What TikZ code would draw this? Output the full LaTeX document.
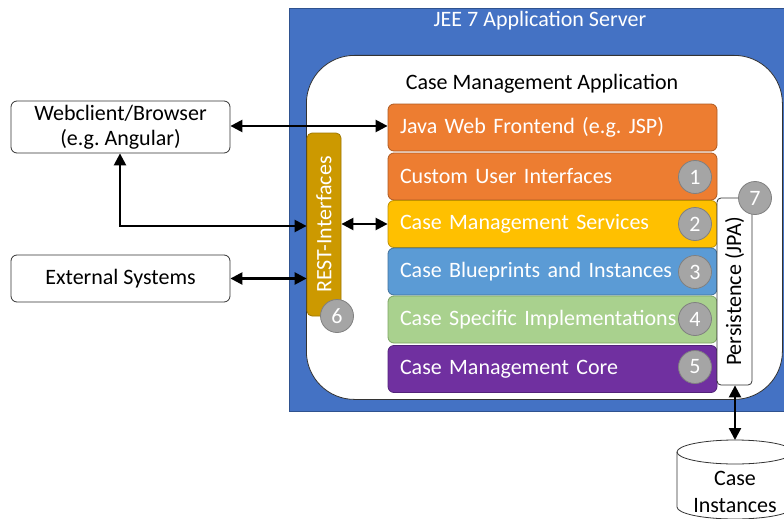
\documentclass[tikz,border=0pt]{standalone}
\usepackage{fontspec}
\setmainfont{Carlito}
\frenchspacing
\usetikzlibrary{arrows.meta}
\definecolor{srvblue}{HTML}{4472C4}
\definecolor{srvedge}{HTML}{2F528F}
\definecolor{lorange}{HTML}{ED7D31}
\definecolor{lorangeE}{HTML}{AE5A21}
\definecolor{lyellow}{HTML}{FFC000}
\definecolor{lyellowE}{HTML}{BF9000}
\definecolor{lblue}{HTML}{5B9BD5}
\definecolor{lblueE}{HTML}{41719C}
\definecolor{lgreen}{HTML}{A9D18E}
\definecolor{lgreenE}{HTML}{7EA563}
\definecolor{lpurple}{HTML}{7030A0}
\definecolor{lpurpleE}{HTML}{52237A}
\definecolor{restc}{HTML}{CC9900}
\definecolor{restE}{HTML}{A07800}
\definecolor{badge}{HTML}{A5A5A5}
\definecolor{badgeE}{HTML}{808080}
\begin{document}
\begin{tikzpicture}[x=1pt,y=-1pt,
  every node/.style={font=\fontsize{22}{27}\selectfont\frenchspacing},
  layer/.style={draw=#1, line width=0.8pt, rounded corners=6pt, minimum width=329pt,
    minimum height=47pt, text width=305pt, align=left, inner xsep=12pt, text=white},
  badgec/.style={circle, fill=badge, draw=badgeE, line width=0.8pt, minimum size=33pt,
    inner sep=0pt, text=white},
  extbox/.style={draw=black!80, rounded corners=6pt, line width=0.8pt, fill=white,
    minimum width=219pt, align=center},
  conn/.style={line width=2.4pt, {Triangle[length=12pt,width=12pt]}-{Triangle[length=12pt,width=12pt]}}
]
\useasboundingbox (0,0) rectangle (784,519);
\fill[white] (0,0) rectangle (784,519);

% application server
\node[draw=srvedge, fill=srvblue, line width=0.8pt, minimum width=500pt, minimum height=403pt,
  anchor=north west, inner sep=0pt] (server) at (289,8) {};
\node[text=white] (srvtitle) at (540,21) {JEE 7 Application Server};

% application container
\node[draw=black!80, fill=white, line width=0.8pt, rounded corners=48pt, minimum width=476pt,
  minimum height=344pt, anchor=north west, inner sep=0pt] (app) at (306,55) {};
\node (apptitle) at (542,84) {Case Management Application};

% layers
\node[layer=lorangeE, fill=lorange]  (jwf)  at (552.5,127.5) {Java Web Frontend (e.g. JSP)};
\node[layer=lorangeE, fill=lorange]  (cui)  at (552.5,176.5) {Custom User Interfaces};
\node[layer=lyellowE, fill=lyellow]  (cms)  at (552.5,224)   {Case Management Services};
\node[layer=lblueE,   fill=lblue]    (cbi)  at (552.5,271.5) {Case Blueprints and Instances};
\node[layer=lgreenE,  fill=lgreen]   (csi)  at (552.5,319.5) {Case Specific Implementations};
\node[layer=lpurpleE, fill=lpurple]  (core) at (552.5,369)   {Case Management Core};

\node[badgec] (b1) at (695,177) {1};
\node[badgec] (b2) at (695,224) {2};
\node[badgec] (b3) at (695,272) {3};
\node[badgec] (b4) at (695,319) {4};
\node[badgec] (b5) at (695,367) {5};

% REST interfaces
\node[draw=restE, fill=restc, line width=0.8pt, rounded corners=5pt, minimum width=183pt,
  minimum height=34pt, rotate=90, text=white, inner sep=0pt] (rest) at (324,224.5) {REST-Interfaces};
\node[badgec] (b6) at (337,316) {6};

% persistence
\node[draw=black!80, fill=white, line width=0.8pt, rounded corners=4pt, minimum width=187pt,
  minimum height=35pt, rotate=90, inner sep=0pt] (pers) at (734.5,291.5) {Persistence (JPA)};
\node[badgec] (b7) at (755,198) {7};

% external clients
\node[extbox, minimum height=52pt] (web) at (120.5,127) {Webclient/Browser\\[-2pt](e.g. Angular)};
\node[extbox, minimum height=47pt] (ext) at (120.5,278.5) {External Systems};

% data store: a cylinder running off the lower right edge
\fill[white] (677,452) -- (677,507) arc[start angle=180, end angle=360, x radius=58, y radius=-12]
  -- (793,452) arc[start angle=0, end angle=180, x radius=58, y radius=12] -- cycle;
\draw[black!80, line width=0.8pt] (677,452) -- (677,507)
  arc[start angle=180, end angle=360, x radius=58, y radius=-12] -- (793,452);
\draw[black!80, line width=0.8pt] (735,452) ellipse[x radius=58, y radius=12];
\coordinate (db) at (735,440);
\node[align=center] (dbtext) at (735,492) {Case\\[0pt]Instances};

% connectors
\draw[conn] (web.east |- 0,126) -- (jwf.west |- 0,126);
\draw[conn] (rest.north |- 0,226) -- (120,226) -- (web.south -| 120,0);
\draw[conn] (ext.east) -- (rest.north |- ext.east);
\draw[conn] (rest.south |- cms.west) -- (cms.west);
\draw[conn] (pers.west -| 735,0) -- (db);
\end{tikzpicture}
\end{document}
